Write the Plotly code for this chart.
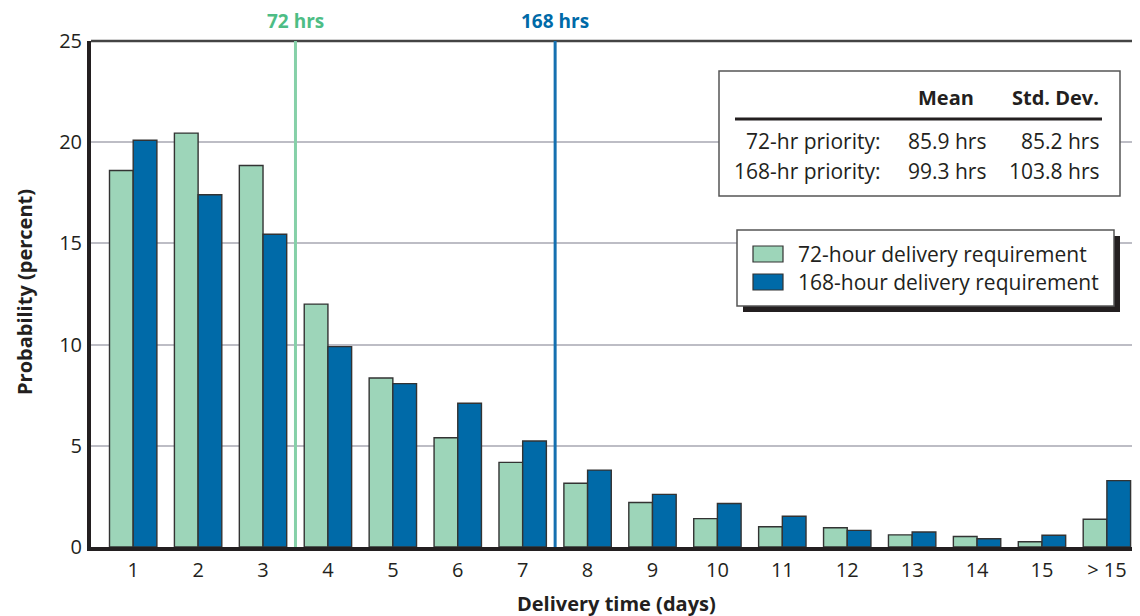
import plotly.graph_objects as go

# delivery time bins (days) and tick labels
days = list(range(1, 17))
day_labels = [str(d) for d in range(1, 16)] + ["> 15"]

# probability (percent)
prob_72 = [18.6, 20.45, 18.85, 12.0, 8.35, 5.4, 4.18, 3.15, 2.2, 1.4, 1.0, 0.95, 0.6, 0.52, 0.26, 1.37]
prob_168 = [20.1, 17.4, 15.45, 9.9, 8.07, 7.1, 5.24, 3.8, 2.6, 2.15, 1.52, 0.82, 0.74, 0.41, 0.58, 3.28]

series_names = ["72-hour delivery requirement", "168-hour delivery requirement"]

# requirement markers (in day-bin units) and their labels
req_lines = [3.5, 7.5]
req_labels = ["72 hrs", "168 hrs"]

# summary table
table_header = ["Mean", "Std. Dev."]
table_rows = ["72-hr priority:", "168-hr priority:"]
table_means = ["85.9 hrs", "99.3 hrs"]
table_sds = ["85.2 hrs", "103.8 hrs"]

GREEN = "#9dd5b9"
BLUE = "#006aa8"
GREEN_LINE = "#86d0a8"
GREEN_TEXT = "#4dbd85"
BLUE_LINE = "#1570b0"
DARK = "#231f20"
FONT = "Open Sans"

# page is drawn with an 8px body margin, so the figure is sized to fit inside
OFF = 8
W, H = 1140 - OFF, 616 - OFF
L, T = 91 - OFF, 41 - OFF
PW, PH = 1049, 506
R, B = W - L - PW, H - T - PH


# page pixel -> paper fraction (plot area spans x 91..1140, y 41..547 on the page)
def px(x):
    return (x - 91) / PW


def py(y):
    return (547 - y) / PH


fig = go.Figure()
fig.add_trace(go.Bar(x=days, y=prob_72, name=series_names[0], marker_color=GREEN,
                     marker_line=dict(color="#333333", width=1.4)))
fig.add_trace(go.Bar(x=days, y=prob_168, name=series_names[1], marker_color=BLUE,
                     marker_line=dict(color="#333333", width=1.4)))

shapes = []
annots = []

# top border
shapes.append(dict(type="line", xref="paper", yref="paper", x0=0, x1=1, y0=1, y1=1,
                   line=dict(color="#444444", width=2.5)))

# requirement lines
for xv, lab, lc, tc in zip(req_lines, req_labels, [GREEN_LINE, BLUE_LINE], [GREEN_TEXT, BLUE]):
    shapes.append(dict(type="line", xref="x", yref="y", x0=xv, x1=xv, y0=-0.3, y1=25,
                       line=dict(color=lc, width=3)))
    annots.append(dict(x=xv, xref="x", y=py(21.5), yref="paper", yanchor="middle",
                       xanchor="center", text="<b>%s</b>" % lab, showarrow=False,
                       font=dict(family=FONT, size=19, color=tc)))

# table box
shapes.append(dict(type="rect", xref="paper", yref="paper", x0=px(719), x1=px(1120),
                   y0=py(196), y1=py(71), line=dict(color="#555555", width=1.5),
                   fillcolor="white", layer="above"))
shapes.append(dict(type="line", xref="paper", yref="paper", x0=px(735), x1=px(1102),
                   y0=py(119), y1=py(119), line=dict(color=DARK, width=3), layer="above"))


def text_at(x, y, s, anchor, size=21):
    annots.append(dict(x=px(x), y=py(y), xref="paper", yref="paper", xanchor=anchor,
                       yanchor="middle", text=s, showarrow=False,
                       font=dict(family=FONT, size=size, color=DARK)))


text_at(946, 97, "<b>%s</b>" % table_header[0], "center", 20)
text_at(1101, 97, "<b>%s</b>" % table_header[1], "right", 20)
for i, yy in enumerate([141, 171]):
    text_at(882, yy, table_rows[i], "right")
    text_at(947, yy, table_means[i], "center")
    text_at(1101, yy, table_sds[i], "right")

# legend box with drop shadow
shapes.append(dict(type="rect", xref="paper", yref="paper", x0=px(743), x1=px(1120),
                   y0=py(312), y1=py(236), line=dict(width=0), fillcolor="#231f20", layer="above"))
shapes.append(dict(type="rect", xref="paper", yref="paper", x0=px(737), x1=px(1114),
                   y0=py(306), y1=py(230), line=dict(color="#555555", width=1.5),
                   fillcolor="white", layer="above"))
for name, col, yy in zip(series_names, [GREEN, BLUE], [254, 282]):
    shapes.append(dict(type="rect", xref="paper", yref="paper", x0=px(753), x1=px(783),
                       y0=py(yy + 8), y1=py(yy - 8), line=dict(color="#333333", width=1.2),
                       fillcolor=col, layer="above"))
    text_at(796, yy, name, "left")

# axis titles
annots.append(dict(x=px(616), y=py(603), xref="paper", yref="paper", xanchor="center",
                   yanchor="middle", text="<b>Delivery time (days)</b>", showarrow=False,
                   font=dict(family=FONT, size=20, color=DARK)))
annots.append(dict(x=px(24), y=py(292), xref="paper", yref="paper", xanchor="center",
                   yanchor="middle", textangle=-90,
                   text="<b>Probability (percent)</b>", showarrow=False,
                   font=dict(family=FONT, size=20, color=DARK)))

fig.update_layout(
    width=W, height=H,
    margin=dict(l=L, r=R, t=T, b=B, autoexpand=False),
    plot_bgcolor="white", paper_bgcolor="white",
    barmode="group", bargap=0.27, bargroupgap=0,
    showlegend=False,
    font=dict(family=FONT, size=20, color=DARK),
    shapes=shapes, annotations=annots,
)
fig.update_xaxes(range=[0.35, 16.51], tickvals=days, ticktext=day_labels,
                 showgrid=False, showline=True, linecolor=DARK, linewidth=4,
                 ticks="", ticklabelstandoff=2, zeroline=False,
                 tickfont=dict(family=FONT, size=20, color=DARK))
fig.update_yaxes(range=[0, 25], tickvals=[0, 5, 10, 15, 20, 25],
                 showgrid=True, gridcolor="#bdbdc5", gridwidth=1.6,
                 showline=True, linecolor=DARK, linewidth=4, zeroline=False,
                 ticks="", ticklabelstandoff=1,
                 tickfont=dict(family=FONT, size=20, color=DARK))

fig.write_html("out.html")
